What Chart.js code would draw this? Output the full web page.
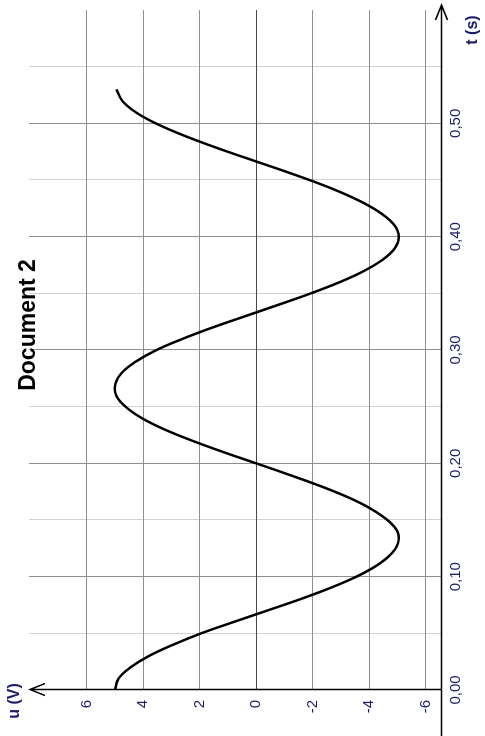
<!DOCTYPE html>
<html lang="fr">
<head>
    <meta charset="UTF-8">
    <title>Document 2</title>
    <style>
        html, body {
            margin: 0;
            padding: 0;
            background: #ffffff;
            overflow: hidden;
            width: 485px;
            height: 736px;
        }
        /* the graph is drawn landscape, then turned a quarter turn to the left */
        #wrap {
            position: absolute;
            left: 0;
            top: 0;
            width: 736px;
            height: 485px;
            transform-origin: 0 0;
            transform: translate(0px, 736px) rotate(-90deg);
        }
    </style>
</head>
<body>
    <div id="wrap">
        <canvas id="chart" width="736" height="485"></canvas>
    </div>

    <script src="https://cdn.jsdelivr.net/npm/chart.js@4/dist/chart.umd.min.js"></script>
    <script>
        // temps (s) et tension (V)
        const tValues = [0.00, 0.01, 0.02, 0.03, 0.04, 0.05, 0.06, 0.07, 0.08, 0.09,
                         0.10, 0.11, 0.12, 0.13, 0.14, 0.15, 0.16, 0.17, 0.18, 0.19,
                         0.20, 0.21, 0.22, 0.23, 0.24, 0.25, 0.26, 0.27, 0.28, 0.29,
                         0.30, 0.31, 0.32, 0.33, 0.34, 0.35, 0.36, 0.37, 0.38, 0.39,
                         0.40, 0.41, 0.42, 0.43, 0.44, 0.45, 0.46, 0.47, 0.48, 0.49,
                         0.50, 0.51, 0.52, 0.53];
        const uValues = [5.00, 4.88, 4.45, 3.80, 2.94, 1.95, 0.80, -0.38, -1.55, -2.62,
                         -3.55, -4.28, -4.78, -5.03, -5.00, -4.65, -4.06, -3.26, -2.27, -1.16,
                         0.00, 1.17, 2.27, 3.26, 4.06, 4.63, 4.96, 4.99, 4.76, 4.25,
                         3.53, 2.59, 1.53, 0.37, -0.80, -1.94, -2.97, -3.84, -4.50, -4.92,
                         -5.05, -4.90, -4.46, -3.79, -2.92, -1.89, -0.75, 0.43, 1.58, 2.64,
                         3.56, 4.28, 4.75, 4.95];

        const tTicks = [0, 0.05, 0.10, 0.15, 0.20, 0.25, 0.30, 0.35, 0.40, 0.45, 0.50, 0.55];
        const uTicks = [-6, -4, -2, 0, 2, 4, 6];

        const FONT = '"Liberation Sans", Arial, sans-serif';
        const NAVY = '#1c1c6b';

        function isMajor(v) {
            return Math.round(v * 100) % 10 === 0;
        }

        // axes fléchés + titres (dessinés à la main)
        const decor = {
            id: 'decor',
            beforeDatasetsDraw(chart) {
                const ctx = chart.ctx;
                const xs = chart.scales.x;
                const ys = chart.scales.y;
                const area = chart.chartArea;
                const x0 = Math.round(xs.getPixelForValue(0)) + 0.5;
                const yb = Math.round(area.bottom) + 0.5;
                ctx.save();
                ctx.strokeStyle = '#000';
                ctx.lineWidth = 1.5;
                // axe du temps
                ctx.beginPath();
                ctx.moveTo(0, yb);
                ctx.lineTo(731, yb);
                ctx.moveTo(716, yb - 6);
                ctx.lineTo(731, yb);
                ctx.lineTo(716, yb + 6);
                ctx.stroke();
                // axe de la tension
                ctx.beginPath();
                ctx.moveTo(x0, yb);
                ctx.lineTo(x0, 30);
                ctx.moveTo(x0 - 6, 45);
                ctx.lineTo(x0, 30);
                ctx.lineTo(x0 + 6, 45);
                ctx.stroke();
                ctx.restore();
            },
            afterDraw(chart) {
                const ctx = chart.ctx;
                ctx.save();
                ctx.fillStyle = '#000';
                ctx.font = 'bold 23px ' + FONT;
                ctx.textAlign = 'center';
                ctx.textBaseline = 'alphabetic';
                ctx.fillText('Document 2', 411, 35);
                ctx.fillStyle = NAVY;
                ctx.font = 'bold 16px ' + FONT;
                ctx.textBaseline = 'middle';
                ctx.fillText('u (V)', 35, 15);
                ctx.fillText('t (s)', 706, 473);
                ctx.restore();
            }
        };

        new Chart(document.getElementById('chart'), {
            type: 'scatter',
            data: {
                datasets: [{
                    data: tValues.map((t, i) => ({ x: t, y: uValues[i] })),
                    showLine: true,
                    borderColor: '#000',
                    borderWidth: 2.5,
                    pointRadius: 0,
                    tension: 0.4,
                    fill: false
                }]
            },
            options: {
                responsive: false,
                animation: false,
                devicePixelRatio: 1,
                layout: { padding: { left: 0, top: 29, right: 10, bottom: 0 } },
                plugins: {
                    legend: { display: false },
                    tooltip: { enabled: false }
                },
                scales: {
                    x: {
                        type: 'linear',
                        min: 0,
                        max: 0.6,
                        afterBuildTicks: s => { s.ticks = tTicks.map(v => ({ value: v })); },
                        afterFit: s => { s.height = 44; },
                        border: { display: false },
                        grid: {
                            drawTicks: false,
                            lineWidth: 1,
                            color: c => {
                                const v = c.tick.value;
                                if (v === 0) return 'rgba(0,0,0,0)';
                                return isMajor(v) ? '#8f8f8f' : '#d2d2d2';
                            }
                        },
                        ticks: {
                            autoSkip: false,
                            maxRotation: 0,
                            padding: 6,
                            color: NAVY,
                            font: { family: FONT, size: 15 },
                            callback: v => isMajor(v) ? v.toFixed(2).replace('.', ',') : ''
                        }
                    },
                    y: {
                        type: 'linear',
                        min: -6.55,
                        max: 8.05,
                        afterBuildTicks: s => { s.ticks = uTicks.map(v => ({ value: v })); },
                        afterFit: s => { s.width = 46; },
                        border: { display: false },
                        grid: {
                            drawTicks: false,
                            lineWidth: 1,
                            color: c => c.tick.value === 0 ? '#4a4a4a' : '#8f8f8f'
                        },
                        ticks: {
                            padding: 10,
                            color: NAVY,
                            font: { family: FONT, size: 15 },
                            callback: v => String(v)
                        }
                    }
                }
            },
            plugins: [decor]
        });
    </script>
</body>
</html>
